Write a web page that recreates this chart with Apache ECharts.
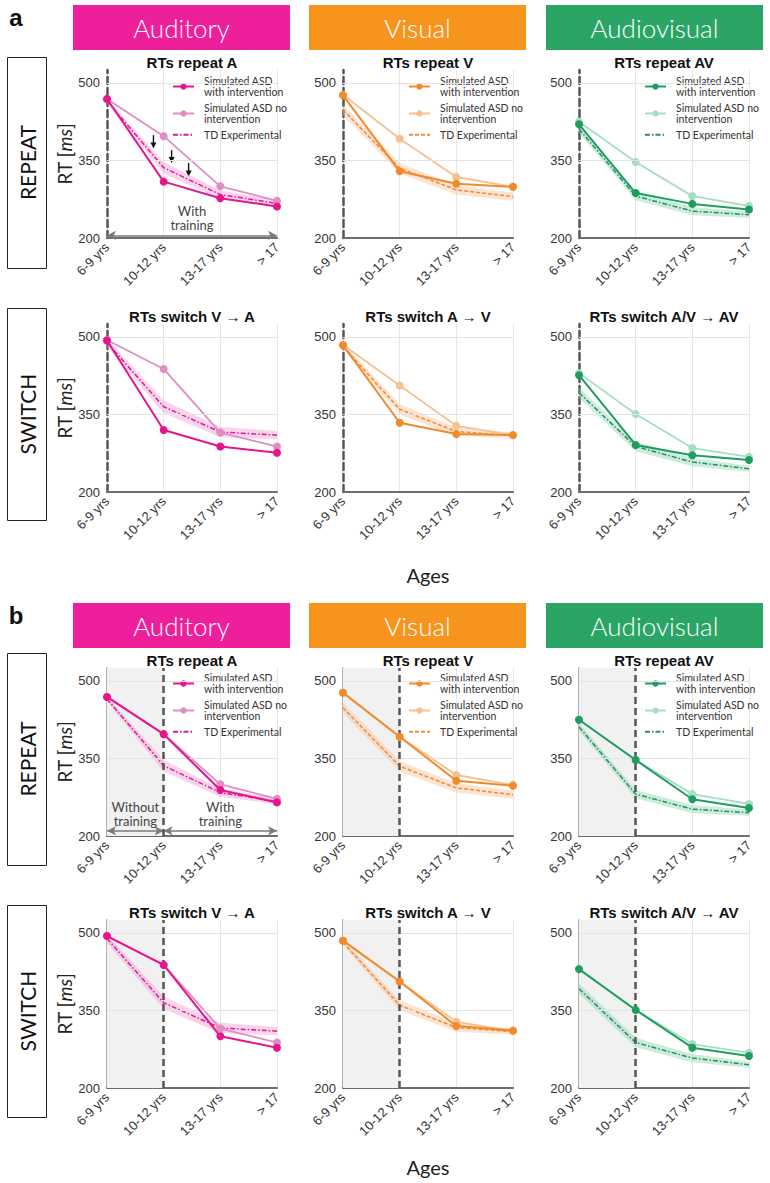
<!DOCTYPE html>
<html><head><meta charset="utf-8">
<script src="https://cdn.jsdelivr.net/npm/echarts@6/dist/echarts.min.js"></script>
<style>html,body{margin:0;padding:0;background:#fff}#c{width:770px;height:1183px}</style>
</head><body><div id="c"></div>
<script>
// ---------------- DATA ----------------
const ages = ['6-9 yrs', '10-12 yrs', '13-17 yrs', '> 17'];
const yTickLabels = [200, 350, 500];
const modalities = ['Auditory', 'Visual', 'Audiovisual'];
const titlesRepeat = ['RTs repeat A', 'RTs repeat V', 'RTs repeat AV'];
const titlesSwitch = ['RTs switch V \u2192 A', 'RTs switch A \u2192 V', 'RTs switch A/V \u2192 AV'];
const legendLabels = { with: 'Simulated ASD\nwith intervention', no: 'Simulated ASD no\nintervention', td: 'TD Experimental' };

// Simulated ASD, no intervention
const noRepeatA = [469, 397, 300, 272];
const noRepeatV = [477, 392, 318, 299];
const noRepeatAV = [425, 347, 281, 262];
const noSwitchA = [494, 438, 315, 288];
const noSwitchV = [485, 406, 328, 310];
const noSwitchAV = [430, 351, 285, 268];

// TD experimental (mean) and half-width of the shaded band
const tdRepeatA = [465, 336, 284, 267];
const tdRepeatV = [448, 335, 293, 280];
const tdRepeatAV = [411, 281, 252, 245];
const tdSwitchA = [489, 365, 316, 310];
const tdSwitchV = [482, 360, 317, 309];
const tdSwitchAV = [392, 288, 258, 245];
const tdErrRepeatA = [5, 11, 8, 6];
const tdErrRepeatV = [10, 10, 9, 8];
const tdErrRepeatAV = [8, 8, 8, 6];
const tdErrSwitchA = [8, 12, 10, 8];
const tdErrSwitchV = [6, 10, 8, 6];
const tdErrSwitchAV = [10, 9, 8, 6];

// Panel a: simulated ASD with intervention (training from 6-9 yrs)
const withARepeatA = [469, 309, 277, 261];
const withARepeatV = [476, 329, 305, 299];
const withARepeatAV = [420, 287, 266, 255];
const withASwitchA = [493, 320, 288, 276];
const withASwitchV = [484, 334, 312, 310];
const withASwitchAV = [426, 291, 271, 262];

// Panel b: simulated ASD with intervention (training from 10-12 yrs)
const withBRepeatA = [469, 397, 289, 265];
const withBRepeatV = [477, 392, 307, 297];
const withBRepeatAV = [425, 347, 271, 254];
const withBSwitchA = [494, 438, 300, 278];
const withBSwitchV = [485, 406, 320, 311];
const withBSwitchAV = [430, 351, 278, 262];

// annotation arrows in panel a, auditory repeat (x as fractional category index, y in ms)
const downArrows = [[0.82, 399, 373], [1.14, 370, 345], [1.44, 345, 319]];

// ---------------- LAYOUT / STYLE ----------------
const colLeft = [107, 343, 579];
const plotW = 170, plotH = 168;
const rowTop = [70, 324, 668, 920];
const headColors = ['#EE1F9B', '#F7941E', '#2AA566'];
const pal = [
  { with: '#E7148D', no: '#DF8DC3', td: '#E2198F', band: 'rgba(244,150,212,0.42)', dash: [5, 2, 1.5, 2] },
  { with: '#F08A2A', no: '#F6C08F', td: '#EE8B3C', band: 'rgba(250,196,150,0.45)', dash: [4, 2] },
  { with: '#1F9D5F', no: '#A5DEC3', td: '#2C8C60', band: 'rgba(130,212,172,0.42)', dash: [5, 2, 1.5, 2] }
];

const rows = [
  { panel: 'a', kind: 'repeat', titles: titlesRepeat, w: [withARepeatA, withARepeatV, withARepeatAV], n: [noRepeatA, noRepeatV, noRepeatAV], t: [tdRepeatA, tdRepeatV, tdRepeatAV], e: [tdErrRepeatA, tdErrRepeatV, tdErrRepeatAV] },
  { panel: 'a', kind: 'switch', titles: titlesSwitch, w: [withASwitchA, withASwitchV, withASwitchAV], n: [noSwitchA, noSwitchV, noSwitchAV], t: [tdSwitchA, tdSwitchV, tdSwitchAV], e: [tdErrSwitchA, tdErrSwitchV, tdErrSwitchAV] },
  { panel: 'b', kind: 'repeat', titles: titlesRepeat, w: [withBRepeatA, withBRepeatV, withBRepeatAV], n: [noRepeatA, noRepeatV, noRepeatAV], t: [tdRepeatA, tdRepeatV, tdRepeatAV], e: [tdErrRepeatA, tdErrRepeatV, tdErrRepeatAV] },
  { panel: 'b', kind: 'switch', titles: titlesSwitch, w: [withBSwitchA, withBSwitchV, withBSwitchAV], n: [noSwitchA, noSwitchV, noSwitchAV], t: [tdSwitchA, tdSwitchV, tdSwitchAV], e: [tdErrSwitchA, tdErrSwitchV, tdErrSwitchAV] }
];

const grid = [], xAxis = [], yAxis = [], series = [], legend = [], graphic = [];
const sans = 'Liberation Sans';
const lato = 'Lato';

rows.forEach((row, r) => {
  for (let c = 0; c < 3; c++) {
    const g = r * 3 + c;
    const p = pal[c];
    const prefix = row.panel + c + '-';
    grid.push({ left: colLeft[c], top: rowTop[r], width: plotW, height: plotH });
    xAxis.push({
      gridIndex: g, type: 'category', data: ages, boundaryGap: false,
      axisLine: { lineStyle: { color: '#6e6e6e', width: 2 } },
      axisTick: { show: false },
      axisLabel: { rotate: 45, fontSize: 13, color: '#333', margin: 7, fontFamily: sans, interval: 0 },
      splitLine: { show: true, lineStyle: { color: '#e6e6e6', width: 1 } }
    });
    yAxis.push({
      gridIndex: g, type: 'value', min: 200, max: 525, interval: 50,
      name: c === 0 ? 'RT [{i|ms}]' : '',
      nameLocation: 'middle', nameRotate: 90, nameGap: 32,
      nameTextStyle: { fontSize: 19, fontFamily: lato, color: '#222', rich: { i: { fontStyle: 'italic', fontSize: 19, fontFamily: lato, color: '#222' } } },
      axisLine: row.panel === 'a'
        ? { show: true, lineStyle: { color: '#555', width: 2.5, type: [7, 4] } }
        : { show: true, lineStyle: { color: '#9a9a9a', width: 1.5 } },
      axisTick: { show: false },
      axisLabel: { fontSize: 13, color: '#333', fontFamily: sans, margin: 7, formatter: v => yTickLabels.includes(v) ? String(v) : '' },
      splitLine: { show: false }
    });
    const low = row.t[c].map((v, i) => v - row.e[c][i]);
    const span = row.e[c].map(v => 2 * v);

    // background markers (grid lines, shading, training arrows)
    const bgLines = [
      { yAxis: 350, lineStyle: { color: '#e4e4e4', width: 1, type: 'solid' } },
      { yAxis: 500, lineStyle: { color: '#e4e4e4', width: 1, type: 'solid' } }
    ];
    const arrowStyle = { color: '#7a7a7a', width: 1.6, type: 'solid' };
    const lblStyle = { show: true, position: 'insideMiddleTop', fontSize: 13, lineHeight: 14, color: '#444', fontFamily: lato, distance: 3 };
    if (c === 0 && row.kind === 'repeat') {
      if (row.panel === 'a') {
        bgLines.push([
          { coord: [ages[0], 205], symbol: 'arrow', symbolSize: [7, 9], lineStyle: arrowStyle, label: Object.assign({ formatter: 'With\ntraining' }, lblStyle) },
          { coord: [ages[3], 205], symbol: 'arrow', symbolSize: [7, 9] }
        ]);
      } else {
        bgLines.push([
          { coord: [ages[0], 210], symbol: 'arrow', symbolSize: [7, 9], lineStyle: arrowStyle, label: Object.assign({ formatter: 'Without\ntraining' }, lblStyle) },
          { coord: [ages[1], 210], symbol: 'arrow', symbolSize: [7, 9] }
        ]);
        bgLines.push([
          { coord: [ages[1], 210], symbol: 'arrow', symbolSize: [7, 9], lineStyle: arrowStyle, label: Object.assign({ formatter: 'With\ntraining' }, lblStyle) },
          { coord: [ages[3], 210], symbol: 'arrow', symbolSize: [7, 9] }
        ]);
      }
    }
    const lowSeries = {
      type: 'line', xAxisIndex: g, yAxisIndex: g, stack: 'band' + g, data: low,
      symbol: 'none', lineStyle: { opacity: 0 }, silent: true, z: 1,
      markLine: { silent: true, symbol: 'none', label: { show: false }, animation: false, data: bgLines }
    };
    if (row.panel === 'b') {
      lowSeries.markArea = { silent: true, itemStyle: { color: '#f1f1f1' }, data: [[{ xAxis: ages[0] }, { xAxis: ages[1] }]] };
    }
    series.push(lowSeries);
    series.push({
      type: 'line', xAxisIndex: g, yAxisIndex: g, stack: 'band' + g, data: span,
      symbol: 'none', lineStyle: { opacity: 0 }, areaStyle: { color: p.band, opacity: 1 }, silent: true, z: 2
    });
    series.push({
      name: prefix + 'td', type: 'line', xAxisIndex: g, yAxisIndex: g, data: row.t[c],
      symbol: 'none', lineStyle: { color: p.td, width: 1.5, type: p.dash }, itemStyle: { color: p.td }, z: 3
    });
    series.push({
      name: prefix + 'no', type: 'line', xAxisIndex: g, yAxisIndex: g, data: row.n[c],
      symbol: 'circle', symbolSize: 8, lineStyle: { color: p.no, width: 1.8 }, itemStyle: { color: p.no }, z: 4
    });
    const withSeries = {
      name: prefix + 'with', type: 'line', xAxisIndex: g, yAxisIndex: g, data: row.w[c],
      symbol: 'circle', symbolSize: 8, lineStyle: { color: p.with, width: 2 }, itemStyle: { color: p.with }, z: 5
    };
    if (row.panel === 'b') {
      withSeries.markLine = {
        silent: true, symbol: 'none', label: { show: false }, animation: false,
        data: [{ xAxis: ages[1], lineStyle: { color: '#555', width: 2.5, type: [7, 4] } }]
      };
    }
    series.push(withSeries);

    if (row.kind === 'repeat') {
      legend.push({
        orient: 'vertical', left: colLeft[c] + 65, top: row.panel === 'a' ? 75 : 672, padding: 0,
        itemWidth: 21, itemHeight: 8, itemGap: 4, selectedMode: false,
        data: [prefix + 'with', prefix + 'no', { name: prefix + 'td', itemStyle: { opacity: 0 } }],
        formatter: name => legendLabels[name.split('-')[1]],
        textStyle: { fontSize: 10.5, lineHeight: 11.5, color: '#333', fontFamily: lato, padding: [0, 0, 0, 5] }
      });
    }
    // subplot title
    graphic.push({
      type: 'text', x: colLeft[c] + plotW / 2, y: rowTop[r] - 8,
      style: { text: row.titles[c], font: 'bold 15px ' + sans, fill: '#111', textAlign: 'center', textVerticalAlign: 'middle' }
    });
  }
});

// headers
const headTop = [5, 603];
const headLeft = [73, 309, 546];
headTop.forEach(ht => {
  modalities.forEach((m, c) => {
    graphic.push({ type: 'rect', shape: { x: headLeft[c], y: ht, width: 217, height: 45 }, style: { fill: headColors[c] } });
    graphic.push({ type: 'text', x: headLeft[c] + 108.5, y: ht + 23, style: { text: m, font: '300 26px ' + lato, fill: '#fff', textAlign: 'center', textVerticalAlign: 'middle' } });
  });
});
// row label boxes
const rowBoxes = [[57, 211, 'REPEAT'], [308, 212, 'SWITCH'], [653, 212, 'REPEAT'], [905, 212, 'SWITCH']];
rowBoxes.forEach(([y, h, t]) => {
  graphic.push({ type: 'rect', shape: { x: 7.5, y: y + 0.5, width: 39, height: h }, style: { fill: '#fff', stroke: '#222', lineWidth: 1 } });
  graphic.push({ type: 'text', x: 27, y: y + h / 2, rotation: Math.PI / 2, style: { text: t, font: '21px ' + lato, fill: '#111', textAlign: 'center', textVerticalAlign: 'middle' } });
});
graphic.push({ type: 'text', x: 16, y: 17, style: { text: 'a', font: 'bold 24px ' + sans, fill: '#111', textAlign: 'center', textVerticalAlign: 'middle' } });
graphic.push({ type: 'text', x: 16, y: 615, style: { text: 'b', font: 'bold 24px ' + sans, fill: '#111', textAlign: 'center', textVerticalAlign: 'middle' } });
graphic.push({ type: 'text', x: 428, y: 575, style: { text: 'Ages', font: '20px ' + lato, fill: '#222', textAlign: 'center', textVerticalAlign: 'middle' } });
graphic.push({ type: 'text', x: 428, y: 1167, style: { text: 'Ages', font: '20px ' + lato, fill: '#222', textAlign: 'center', textVerticalAlign: 'middle' } });

const chart = echarts.init(document.getElementById('c'), null, { renderer: 'svg', width: 770, height: 1183 });
chart.setOption({ animation: false, backgroundColor: '#fff', grid, xAxis, yAxis, series, legend, graphic });

// black down-arrows (annotation) placed through the axes of the first subplot
const arrowGraphics = downArrows.map(([xi, y0, y1]) => {
  const i0 = Math.floor(xi), f = xi - i0;
  const xa = chart.convertToPixel({ xAxisIndex: 0 }, ages[i0]);
  const xb = chart.convertToPixel({ xAxisIndex: 0 }, ages[Math.min(i0 + 1, 3)]);
  const x = xa + (xb - xa) * f;
  const ya = chart.convertToPixel({ yAxisIndex: 0 }, y0);
  const yb = chart.convertToPixel({ yAxisIndex: 0 }, y1);
  return {
    type: 'group', children: [
      { type: 'line', shape: { x1: x, y1: ya, x2: x, y2: yb - 4 }, style: { stroke: '#111', lineWidth: 1.4 } },
      { type: 'polygon', shape: { points: [[x - 3, yb - 6], [x + 3, yb - 6], [x, yb]] }, style: { fill: '#111' } }
    ]
  };
});
chart.setOption({ graphic: graphic.concat(arrowGraphics) });
</script></body></html>
